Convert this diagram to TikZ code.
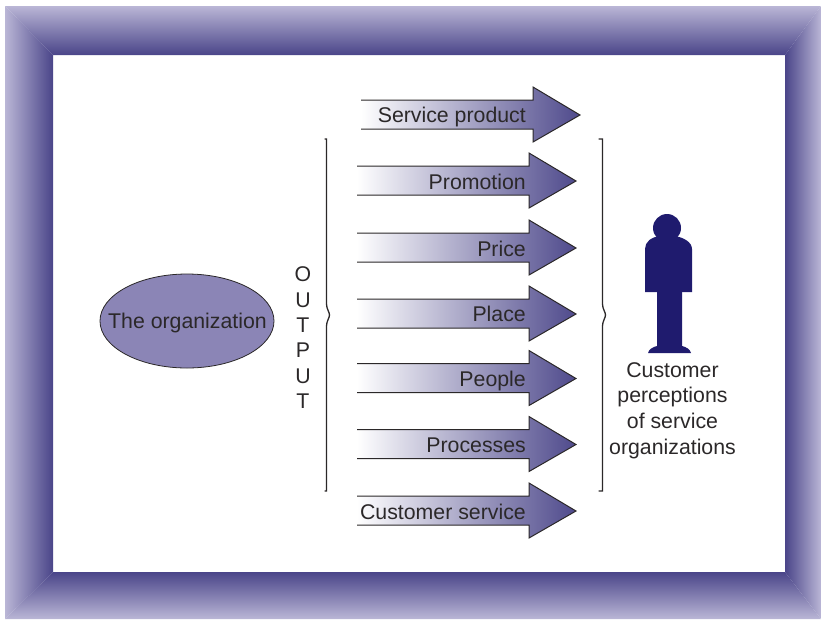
\documentclass[tikz,border=0pt]{standalone}
\usepackage{fontspec}
\usetikzlibrary{shapes.geometric}
\setmainfont{Liberation Sans}
\definecolor{framedark}{HTML}{4A4589}
\definecolor{framelight}{HTML}{BAB6D6}
\definecolor{arrowdark}{HTML}{4F4A8C}
\definecolor{orgfill}{HTML}{8B85B6}
\definecolor{personblue}{HTML}{1F1B6E}
\definecolor{inkgrey}{HTML}{2B2829}
\tikzset{
  x=1pt,y=-1pt,
  lab/.style={font=\fontsize{21.3}{26}\selectfont,text=inkgrey,inner sep=0pt},
  barline/.style={draw=inkgrey,line width=1pt},
  bracketline/.style={draw=inkgrey,line width=1.3pt},
}
% \servarrow{name}{left x}{centre y}{label}{label baseline y}
\newcommand{\servarrow}[5]{%
  \shade[left color=white,right color=arrowdark]
    (#2,#3-15) -- (#2+172,#3-15) -- (#2+172,#3-28) -- (#2+219,#3) -- (#2+172,#3+27) -- (#2+172,#3+14) -- (#2,#3+14) -- cycle;
  \draw[barline] (#2,#3-15) -- (#2+172,#3-15) -- (#2+172,#3-28) -- (#2+219,#3) -- (#2+172,#3+27) -- (#2+172,#3+14) -- (#2,#3+14);
  \node[lab,anchor=base east] (#1) at (526,#5) {#4};
}
\begin{document}
\begin{tikzpicture}
\useasboundingbox (0,0) rectangle (821,619);
% frame
\shade[top color=framelight,bottom color=framedark] (5,6) -- (821,6) -- (785,55) -- (53,55) -- cycle;
\shade[top color=framedark,bottom color=framelight] (53,572) -- (785,572) -- (821,619) -- (5,619) -- cycle;
\shade[left color=framelight,right color=framedark] (5,6) -- (53,55) -- (53,572) -- (5,619) -- cycle;
\shade[left color=framedark,right color=framelight] (785,55) -- (821,6) -- (821,619) -- (785,572) -- cycle;
% ellipse
\node[ellipse,draw=inkgrey,line width=0.8pt,fill=orgfill,minimum width=174pt,minimum height=94pt,inner sep=0pt] (org) at (187,321) {};
\node[lab,anchor=base] (orgtext) at (187.5,328) {The organization};
% output
\node[lab,anchor=base] (o1) at (303,281) {O};
\node[lab,anchor=base] (o2) at (303,307) {U};
\node[lab,anchor=base] (o3) at (303,332) {T};
\node[lab,anchor=base] (o4) at (303,357) {P};
\node[lab,anchor=base] (o5) at (303,383) {U};
\node[lab,anchor=base] (o6) at (303,408) {T};
% brackets
\draw[bracketline] (324.5,139) -- (326.5,139) -- (326.5,304) .. controls (326.5,309) and (329.5,312) .. (329.5,315) .. controls (329.5,318) and (326.5,321) .. (326.5,326) -- (326.5,491) -- (324.5,491);
\draw[bracketline] (598.5,139) -- (602.5,139) -- (602.5,304) .. controls (602.5,309) and (605.5,312) .. (605.5,315) .. controls (605.5,318) and (602.5,321) .. (602.5,326) -- (602.5,491) -- (598.5,491);
% arrows
\servarrow{a1}{361}{115}{Service product}{122}
\servarrow{a2}{357}{181}{Promotion}{189}
\servarrow{a3}{357}{248}{Price}{256}
\servarrow{a4}{357}{314}{Place}{321}
\servarrow{a5}{357}{378.5}{People}{386}
\servarrow{a6}{357}{444.5}{Processes}{452}
\servarrow{a7}{357}{511}{Customer service}{519}
% person
\fill[personblue] (667,228) circle (14);
\fill[personblue] (645,292) -- (645,249) .. controls (645,242) and (651,237) .. (660,236) -- (674,236) .. controls (683,237) and (692,242) .. (692,249) -- (692,292) -- cycle;
\fill[personblue] (657,290) -- (682,290) -- (682,346) .. controls (686,347) and (690,349) .. (691,353) -- (648,353) .. controls (649,349) and (653,347) .. (657,346) -- cycle;
% caption
\node[lab,anchor=base] (c1) at (672.5,377) {Customer};
\node[lab,anchor=base] (c2) at (672.5,402) {perceptions};
\node[lab,anchor=base] (c3) at (672.5,428) {of service};
\node[lab,anchor=base] (c4) at (672.5,454) {organizations};
\end{tikzpicture}
\end{document}
